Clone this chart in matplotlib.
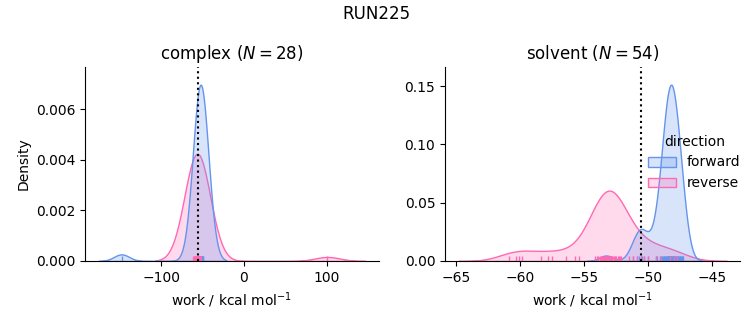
import numpy as np
import pandas as pd
import seaborn as sns
from matplotlib import pyplot as plt

complex_forward = [
    -148.0, -55.0, -54.6, -54.3, -54.0, -53.8, -53.6, -53.4, -53.2, -53.0,
    -52.9, -52.8, -52.6, -52.5, -52.4, -52.3, -52.2, -52.0, -51.9, -51.7,
    -51.5, -51.3, -51.1, -50.9, -50.6, -50.3, -49.8, -49.2,
]
complex_reverse = [
    101.0, -61.0, -60.3, -59.7, -59.2, -58.8, -58.4, -58.0, -57.7, -57.4,
    -57.1, -56.8, -56.6, -56.4, -56.2, -56.0, -55.8, -55.6, -55.4, -55.2,
    -55.0, -54.7, -54.4, -54.1, -53.7, -53.3, -52.8, -52.2,
]
solvent_forward = [
    -53.3, -51.2, -50.9, -50.7, -50.6, -50.5, -50.3, -50.0,
    -49.4, -49.3, -49.1, -49.0, -48.9, -48.85, -48.8, -48.75, -48.7,
    -48.65, -48.6, -48.55, -48.5, -48.5, -48.45, -48.45, -48.4, -48.4, -48.35,
    -48.3, -48.3, -48.3, -48.25, -48.25, -48.2, -48.2, -48.15, -48.1, -48.1,
    -48.05, -48.0, -48.0, -47.95, -47.9, -47.85, -47.8, -47.75, -47.7, -47.65,
    -47.6, -47.55, -47.5, -47.45, -47.4, -47.35, -47.3,
]
solvent_reverse = [
    -60.9, -60.3, -60.1, -59.9, -58.4, -57.8, -57.5, -56.4, -55.7, -55.4,
    -54.2, -54.0, -53.9, -53.8, -53.7, -53.65, -53.6, -53.5, -53.45, -53.4,
    -53.35, -53.3, -53.3, -53.25, -53.2, -53.2, -53.15, -53.1, -53.05, -53.0,
    -53.0, -52.95, -52.9, -52.85, -52.8, -52.7, -52.65, -52.6, -52.5, -52.4,
    -52.3, -52.2, -52.1,
    -51.5, -51.2, -50.9, -50.6, -50.3, -50.0, -49.4, -49.0, -48.3, -48.0,
    -47.8,
]

# free energy estimates (dotted lines)
complex_estimate = -55.6
solvent_estimate = -50.6

phases = ["complex", "solvent"]
pairs = {"complex": 28, "solvent": 54}
estimates = {"complex": complex_estimate, "solvent": solvent_estimate}

rows = []
for phase, fwd, rev in [
    ("complex", complex_forward, complex_reverse),
    ("solvent", solvent_forward, solvent_reverse),
]:
    rows += [(phase, "forward", w) for w in fwd]
    rows += [(phase, "reverse", w) for w in rev]
df = pd.DataFrame(rows, columns=["phase", "direction", "work"])

g = sns.displot(
    df,
    x="work",
    hue="direction",
    col="phase",
    kind="kde",
    fill=True,
    rug=True,
    palette={"forward": "cornflowerblue", "reverse": "hotpink"},
    facet_kws=dict(sharex=False, sharey=False),
    height=3,
    aspect=1.2,
)

fig = g.figure
fig.set_size_inches(7.53, 3.25)

for ax, phase in zip(g.axes.flat, phases):
    ax.axvline(estimates[phase], color="k", ls=":", lw=1.5)
    ax.set_title(phase + " ($N=%d$)" % pairs[phase])
    ax.set_xlabel("work / kcal mol$^{-1}$")

g.axes.flat[0].set_ylabel("Density")
g.axes.flat[0].set_position([0.113, 0.197, 0.390, 0.597])
g.axes.flat[1].set_position([0.591, 0.197, 0.392, 0.597])

sns.move_legend(g, "center left", bbox_to_anchor=(0.844, 0.5), frameon=False)
fig.suptitle("RUN225", x=0.5, y=0.985, fontsize=12)

fig.savefig("out.png", dpi=100)
